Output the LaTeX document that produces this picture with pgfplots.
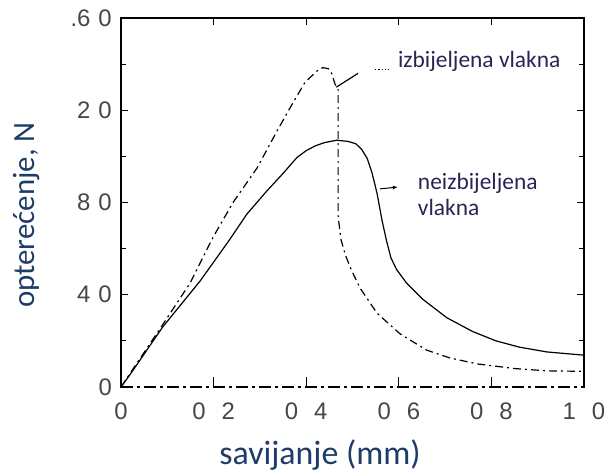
\documentclass[border=0pt]{standalone}
\usepackage{pgfplots}
\pgfplotsset{compat=1.18}
\usepackage{fontspec}
\usetikzlibrary{arrows.meta}
\newfontfamily\carl{Carlito}
\newfontfamily\tickf{Liberation Sans}
\newcommand\tsp{\kern8bp}
\definecolor{lblblue}{RGB}{31,60,105}
\definecolor{annot}{RGB}{40,36,84}
\definecolor{tickgray}{RGB}{70,70,70}

% unbleached fibres (solid)
\pgfplotstableread{
x y
0 0
0.02 5.5
0.09 26
0.171 46
0.235 64
0.272 75
0.315 85
0.35 92.6
0.38 99.5
0.40 102.5
0.42 104.6
0.44 106
0.466 107
0.49 106.5
0.507 105.5
0.52 103
0.532 99
0.542 93
0.553 84
0.564 72
0.574 63
0.583 56
0.595 51
0.617 45
0.652 38
0.704 30
0.76 24
0.81 20
0.86 17.3
0.92 15.2
1.0 13.8
}\unbleached

% bleached fibres (dashed)
\pgfplotstableread{
x y
0 0
0.05 15
0.09 27
0.149 45
0.199 65
0.242 80
0.294 95
0.337 111
0.365 121
0.397 132
0.423 137
0.436 138.5
0.448 138
0.455 136
0.462 131.5
0.469 129
0.469 74
0.475 64
0.485 57
0.497 51
0.516 43
0.553 32
0.603 23
0.66 16
0.71 12.6
0.77 10
0.85 8
0.92 7
1.0 6.8
}\bleached

\begin{document}
\begin{tikzpicture}
\path (-121bp,-88bp) rectangle (490bp,387bp);
\begin{axis}[
    scale only axis,
    width=463bp, height=369bp,
    xmin=0, xmax=1, ymin=0, ymax=160,
    clip=false,
    xtick={0,0.2,0.4,0.6,0.8,1},
    xticklabels={0,0\tsp\tsp2,0\tsp\tsp4,0\tsp\tsp6,0\tsp\tsp8,1\tsp\tsp0},
    ytick={0,40,80,120,160},
    yticklabels={0,4\tsp0,8\tsp0,2\tsp0,.6\tsp0},
    minor y tick num=1,
    tick align=inside,
    major tick length=7bp, minor tick length=4bp,
    tick style={draw=black, line width=1bp},
    ticklabel style={font=\tickf\fontsize{24}{26}\selectfont, text=tickgray},
    yticklabel style={inner xsep=0pt, xshift=-9bp},
    xticklabel style={inner ysep=0pt, yshift=-16bp},
    axis line style={line width=1.8bp},
    xlabel={savijanje (mm)},
    ylabel={opterećenje, N},
    xlabel style={font=\carl\fontsize{34}{36}\selectfont, text=lblblue,
        at={(axis description cs:0.43,0)}, anchor=center, yshift=-68bp},
    ylabel style={font=\carl\fontsize{31}{34}\selectfont, text=lblblue,
        at={([xshift=-94bp]axis description cs:0,0.466)}, anchor=center},
]
\addplot[black, line width=1.2bp] table {\unbleached};
\addplot[black, line width=1.2bp, dash pattern=on 8bp off 4bp on 2bp off 4bp] table {\bleached};

% annotations
\draw[line width=1.2bp] (axis cs:0.465,130) -- (axis cs:0.512,136);
\draw[line width=1.2bp, dotted] (axis cs:0.549,137.5) -- (axis cs:0.577,137.5);
\node[anchor=west, inner sep=0pt, font=\carl\fontsize{23.5}{26}\selectfont, text=annot]
    at (axis cs:0.598,141.4) {izbijeljena vlakna};
\draw[line width=1bp, -{Latex[length=5bp,width=4bp]}] (axis cs:0.559,85.9) -- (axis cs:0.598,86.7);
\node[anchor=west, align=left, inner sep=0pt, font=\carl\fontsize{23.5}{26}\selectfont, text=annot]
    at (axis cs:0.641,83.3) {neizbijeljena\\vlakna};
\end{axis}
% frame as filled strips (axis box spans 463bp x 369bp from the origin)
\fill[black] (-0.9bp,0) rectangle (0.9bp,369.9bp);
\fill[black] (-0.9bp,368.1bp) rectangle (463.9bp,369.9bp);
\fill[black] (462.1bp,0) rectangle (463.9bp,369.9bp);
% broken bottom line, as in the scan
\draw[white, line width=2.4bp] (2bp,0) -- (461bp,0);
\draw[black, line width=1.5bp, dash pattern=on 12bp off 4bp on 3bp off 4bp] (0,0) -- (463bp,0);
\foreach \t in {0.2,0.4,0.6,0.8} {
  \fill[black] (463bp*\t-0.5bp,0) rectangle (463bp*\t+0.5bp,10bp);
  \fill[black] (463bp*\t-0.5bp,369bp) rectangle (463bp*\t+0.5bp,363bp);
}
\foreach \t in {20,40,...,140} {
  \fill[black] (0,2.30625bp*\t-0.5bp) rectangle (5bp,2.30625bp*\t+0.5bp);
  \fill[black] (463bp,2.30625bp*\t-0.5bp) rectangle (458bp,2.30625bp*\t+0.5bp);
}
\end{tikzpicture}
\end{document}
